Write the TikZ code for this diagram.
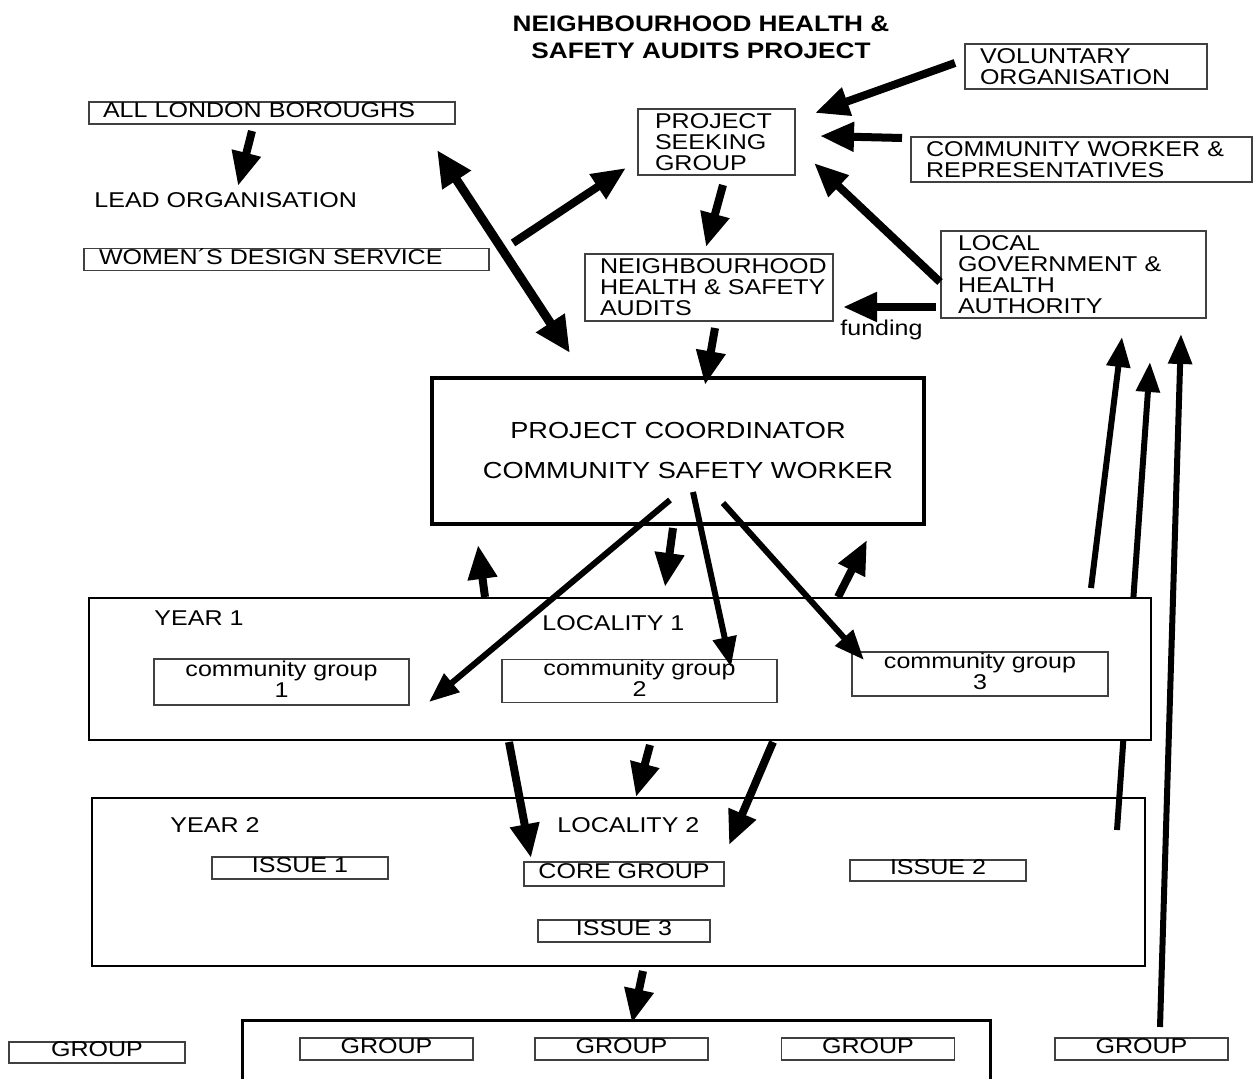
\documentclass[tikz,border=0pt]{standalone}
\usepackage{fontspec}
\setmainfont{Liberation Sans}[FakeStretch=1.17]
\usetikzlibrary{arrows.meta}
\pgfdeclarelayer{background}
\pgfsetlayers{background,main}

\begin{document}
\begin{tikzpicture}[
  x=0.5pt, y=-0.5pt,
  font=\fontsize{10.7}{10.5}\selectfont,
  box/.style={draw=black!75, line width=0.6pt, fill=white, inner ysep=0pt, align=left},
  onebox/.style={box, text depth=3pt},
  cbox/.style={box, text depth=3pt, align=center, inner xsep=0pt},
  frame/.style={draw, line width=1.1pt},
  txt/.style={inner sep=0pt, anchor=base west},
  fat/.style={line width=4pt, -{Triangle[length=17pt,width=14pt]}},
  slim/.style={line width=3pt, -{Triangle[length=15pt,width=11.5pt]}},
  both/.style={line width=4.5pt, {Triangle[length=18pt,width=16pt]}-{Triangle[length=18pt,width=16pt]}}
]
\useasboundingbox (0,0) rectangle (1253,1079);
\clip (0,0) rectangle (1253,1079);

\node[font=\fontsize{11.2}{13.5}\selectfont\bfseries, align=center, inner sep=0pt, anchor=north] (title) at (701,15) {NEIGHBOURHOOD HEALTH \&\\SAFETY AUDITS PROJECT};

% left column
\node[onebox, text width=169pt, inner xsep=7pt, minimum height=11pt] (boroughs) at (272,113) {ALL LONDON BOROUGHS};
\node[txt] (lead) at (94,208) {LEAD ORGANISATION};
\node[onebox, text width=187.5pt, inner xsep=7.5pt, minimum height=10.5pt] (wds) at (286.5,259.5) {WOMEN´S DESIGN SERVICE};

% project seeking group and the ones feeding it
\node[box, text width=61.5pt, inner xsep=8.5pt, minimum height=33pt] (seeking) at (716.5,142) {PROJECT\\SEEKING\\GROUP};
\node[box, text width=106pt, inner xsep=7.5pt, minimum height=22.5pt] (voluntary) at (1086,66.5) {VOLUNTARY\\ORGANISATION};
\node[box, text width=155.5pt, inner xsep=7.5pt, minimum height=22.5pt] (workers) at (1081.5,159.5) {COMMUNITY WORKER \&\\REPRESENTATIVES};
\node[box, text width=109pt, inner xsep=7.5pt, minimum height=33.5pt] (audits) at (709,287.5) {NEIGHBOURHOOD\\HEALTH~\&~SAFETY\\AUDITS};
\node[box, text width=115.5pt, inner xsep=8.5pt, minimum height=43.5pt] (localgov) at (1073.5,274.5) {LOCAL\\GOVERNMENT \&\\HEALTH\\AUTHORITY};
\node[txt] (funding) at (840,336) {funding};

\node[draw, line width=2pt, fill=white, minimum width=246pt, minimum height=73pt, align=center, font=\fontsize{11.6}{20}\selectfont] (coord) at (678,451) {PROJECT COORDINATOR\\\hspace*{10pt}COMMUNITY SAFETY WORKER};

% year 1
\node[frame, fill=white, minimum width=531pt, minimum height=71pt] (year1) at (620,669) {};
\node[txt] (y1label) at (154,625) {YEAR 1};
\node[txt] (loc1) at (542,631) {LOCALITY 1};
\node[cbox, minimum width=127.5pt, minimum height=23pt] (cg1) at (281.5,682) {community group\\1};
\node[cbox, minimum width=137.5pt, minimum height=21pt] (cg2) at (639.5,681) {community group\\2};
\node[cbox, minimum width=128pt, minimum height=22pt] (cg3) at (980,674) {community group\\3};

% year 2
\node[frame, minimum width=526.5pt, minimum height=84pt] (year2) at (618.5,882) {};
\node[txt] (y2label) at (170,832) {YEAR 2};
\node[txt] (loc2) at (557,832) {LOCALITY 2};
\node[cbox, minimum width=88pt, minimum height=11pt] (issue1) at (300,868) {ISSUE 1};
\node[cbox, minimum width=100pt, minimum height=12pt] (core) at (624,874) {CORE GROUP};
\node[cbox, minimum width=88pt, minimum height=10.5pt] (issue2) at (938,870.5) {ISSUE 2};
\node[cbox, minimum width=86pt, minimum height=11pt] (issue3) at (624,931) {ISSUE 3};

% groups
\node[draw, line width=1.5pt, minimum width=374pt, minimum height=45pt] (groups) at (616,1065) {};
\node[cbox, minimum width=88pt, minimum height=10.5pt] (grp0) at (97,1052.5) {GROUP};
\node[cbox, minimum width=86.5pt, minimum height=11pt] (grp1) at (386.5,1049) {GROUP};
\node[cbox, minimum width=86.5pt, minimum height=11pt] (grp2) at (621.5,1049) {GROUP};
\node[cbox, minimum width=86.5pt, minimum height=11pt] (grp3) at (868,1049) {GROUP};
\node[cbox, minimum width=86.5pt, minimum height=11pt] (grp4) at (1141.5,1049) {GROUP};

% arrow ends
\coordinate (borout) at (252,131);
\coordinate (leadin) at (238,186);
\coordinate (dbltop) at (437,150);
\coordinate (dblbot) at (570,353);
\coordinate (wdsout) at (513,243);
\coordinate (seekin1) at (626,168);
\coordinate (volout) at (955,63);
\coordinate (seekin2) at (815,113);
\coordinate (wrkout) at (902,138);
\coordinate (seekin3) at (820,136);
\coordinate (lgout1) at (940,282);
\coordinate (seekin4) at (814,163);
\coordinate (seekout) at (723,185);
\coordinate (audin1) at (706,247);
\coordinate (lgout2) at (936,307);
\coordinate (audin2) at (843,307);
\coordinate (audout) at (715,328);
\coordinate (coordin) at (705,385);
\coordinate (cout1) at (670,500);
\coordinate (cgin1) at (429,702);
\coordinate (cout2) at (693,492);
\coordinate (cgin2) at (731,667);
\coordinate (cout3) at (723,503);
\coordinate (cgin3) at (864,660);
\coordinate (cout4) at (673,528);
\coordinate (y1in) at (665,587);
\coordinate (y1outa) at (485,597);
\coordinate (coordina) at (478,545);
\coordinate (y1outb) at (838,597);
\coordinate (coordinb) at (867,540);
\coordinate (y1downa) at (509,742);
\coordinate (y2ina) at (531,858);
\coordinate (y1downb) at (650,745);
\coordinate (y2inb) at (636,797);
\coordinate (y1downc) at (773,742);
\coordinate (y2inc) at (729,845);
\coordinate (y2down) at (643,971);
\coordinate (grpin) at (632,1023);
\coordinate (y1up) at (1091,588);
\coordinate (lgin1) at (1122,337);
\coordinate (y2up) at (1117,830);
\coordinate (lgin2) at (1150,362);
\coordinate (grpup) at (1160,1027);
\coordinate (lgin3) at (1181,334);

\draw[fat] (borout) -- (leadin);
\draw[both] (dbltop) -- (dblbot);
\draw[fat] (wdsout) -- (seekin1);
\draw[fat] (volout) -- (seekin2);
\draw[fat] (wrkout) -- (seekin3);
\draw[fat] (lgout1) -- (seekin4);
\draw[fat] (seekout) -- (audin1);
\draw[fat] (lgout2) -- (audin2);
\draw[fat] (audout) -- (coordin);
\draw[slim] (cout1) -- (cgin1);
\draw[slim] (cout2) -- (cgin2);
\draw[slim] (cout3) -- (cgin3);
\draw[fat] (cout4) -- (y1in);
\draw[fat] (y1outa) -- (coordina);
\draw[fat] (y1outb) -- (coordinb);
\draw[fat] (y1downa) -- (y2ina);
\draw[fat] (y1downb) -- (y2inb);
\draw[fat] (y1downc) -- (y2inc);
\draw[fat] (y2down) -- (grpin);
\draw[slim] (y1up) -- (lgin1);
\draw[slim] (grpup) -- (lgin3);

\begin{pgfonlayer}{background}
  \draw[slim] (y2up) -- (lgin2);
\end{pgfonlayer}

\end{tikzpicture}
\end{document}
